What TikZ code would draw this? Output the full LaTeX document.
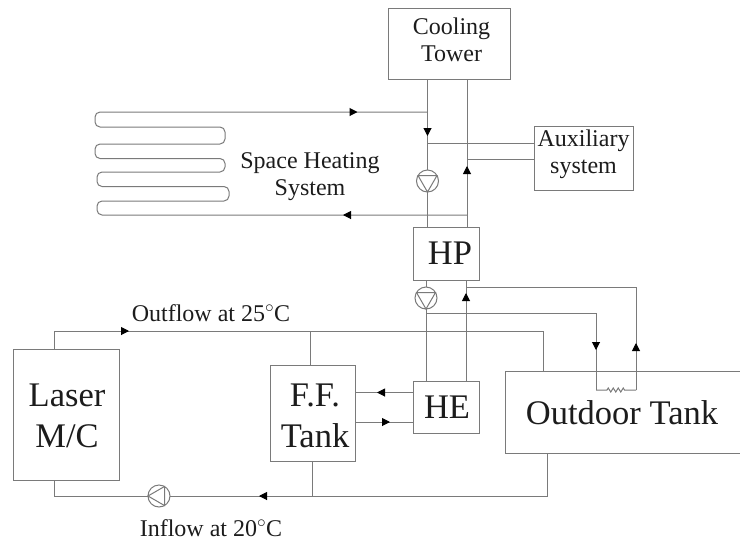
\documentclass[tikz,border=0pt]{standalone}
\usepackage{fontspec}
\setmainfont{Liberation Serif}
\usetikzlibrary{decorations.markings,decorations.pathmorphing,arrows.meta}
\definecolor{pipe}{HTML}{7A7A7A}
\definecolor{ink}{HTML}{1C1C1C}
\tikzset{
  box/.style={draw=pipe,line width=1pt,inner sep=0pt,outer sep=0pt,rectangle},
  openbox/.style={inner sep=0pt,outer sep=0pt,rectangle},
  lineflow/.style={draw=pipe,line width=1pt},
  tipat/.style={postaction={decorate,decoration={markings,mark=at position #1 with {\arrow[black]{Triangle[length=8pt,width=8pt]}}}}},
  pumpc/.style={draw=pipe,line width=1pt,circle,inner sep=0pt,outer sep=0pt,minimum size=22pt,fill=white},
  small/.style={text=ink,font=\fontsize{24}{27}\selectfont,align=center,inner sep=0pt},
  big/.style={text=ink,font=\fontsize{34.5}{41}\selectfont,align=center,inner sep=0pt},
}
\begin{document}
\begin{tikzpicture}[x=1pt,y=-1pt]
\useasboundingbox (0,0) rectangle (740,542);
% boxes
\node[box,minimum width=122pt,minimum height=71pt] (tower) at (449,43.5) {};
\node[box,minimum width=99pt,minimum height=64pt] (aux) at (583.5,158) {};
\node[box,minimum width=66pt,minimum height=53pt] (hp) at (446,253.5) {};
\node[box,minimum width=66pt,minimum height=52pt] (he) at (446,407) {};
\node[openbox,minimum width=235pt,minimum height=82pt] (tank) at (622.5,412) {};
\draw[lineflow] (tank.north east) -- (tank.north west) -- (tank.south west) -- (tank.south east);
\node[box,minimum width=106pt,minimum height=131pt] (laser) at (66,414.5) {};
\node[box,minimum width=85pt,minimum height=96pt] (ff) at (312.5,413) {};
% pumps
\node[pumpc] (p1) at (427.5,181) {};
\node[pumpc] (p2) at (426,298) {};
\node[pumpc] (p3) at (159,496) {};
\draw[lineflow] (p1.150) -- (p1.30) -- (p1.270) -- cycle;
\draw[lineflow] (p2.150) -- (p2.30) -- (p2.270) -- cycle;
\draw[lineflow] (p3.60) -- (p3.300) -- (p3.180) -- cycle;
% helper coordinates
\coordinate (jtop) at (427.5,112);
\coordinate (jbot) at (467,215);
\coordinate (j1) at (427.5,143);
\coordinate (j2) at (467,159);
\coordinate (j3) at (466,287);
\coordinate (j4) at (426,313);
\coordinate (r1) at (636,390);
\coordinate (r2) at (596,390);
\coordinate (o1) at (543,371);
\coordinate (i1) at (547,453);
\coordinate (l1) at (54,349);
\coordinate (l2) at (54,480);
\coordinate (f1) at (310,365);
\coordinate (f2) at (312.5,461);
% upper loop
\draw[lineflow,tipat=57pt] (tower.south -| jtop) -- (p1.north);
\draw[lineflow] (p1.south) -- (hp.north -| p1);
\draw[lineflow,tipat=61pt] (hp.north -| jbot) -- (tower.south -| jbot);
\draw[lineflow] (j1) -- (aux.west |- j1);
\draw[lineflow] (j2) -- (aux.west |- j2);
% space heating coil
\draw[lineflow,rounded corners=5pt,tipat=124pt,tipat=-70pt]
  (jbot) -- (97,215) -- (97,201) -- (229,201) -- (229,186.5) -- (97,186.5) -- (97,172)
  -- (225,172) -- (225,158.5) -- (95,158.5) -- (95,144) -- (225,144) -- (225,127)
  -- (95,127) -- (95,112) -- (jtop);
% lower loop
\draw[lineflow] (hp.south -| p2) -- (p2.north);
\draw[lineflow] (p2.south) -- (he.north -| p2);
\draw[lineflow,tipat=88pt] (he.north -| j3) -- (hp.south -| j3);
\draw[lineflow,tipat=47pt] (r1) -- (j3 -| r1) -- (j3);
\draw[lineflow,tipat=207pt] (j4) -- (j4 -| r2) -- (r2);
\draw[lineflow] (r2) decorate[decoration={zigzag,segment length=5pt,amplitude=2pt,pre length=11pt,post length=10pt}] {-- (r1)};
% heat exchanger to F.F. tank
\coordinate (h1) at (413,392.5);
\coordinate (h2) at (355,422);
\draw[lineflow,tipat=36pt] (h1) -- (h1 -| ff.east);
\draw[lineflow,tipat=35pt] (h2) -- (h2 -| he.west);
% laser circuit
\draw[lineflow,tipat=93pt] (l1) -- (54,331) -- (543,331) -- (o1);
\draw[lineflow] (f1) -- (310,331);
\draw[lineflow,tipat=331pt] (i1) -- (547,496) -- (p3.east);
\draw[lineflow] (p3.west) -- (54,496) -- (l2);
\draw[lineflow] (f2) -- (312.5,496);
% labels
\node[small] (ttower) at (451.5,40) {Cooling\\Tower};
\node[small] (taux) at (583.5,154.5) {Auxiliary\\system};
\node[small] (tspace) at (310,176.5) {Space Heating\\System};
\node[small] (tout) at (211,313) {Outflow at 25$^{\circ}$C};
\node[small] (tin) at (211,528) {Inflow at 20$^{\circ}$C};
\node[big] (thp) at (450,253) {HP};
\node[big] (the) at (447,407) {HE};
\node[big] (ttank) at (622,413) {Outdoor Tank};
\node[big] (tlaser) at (67,416) {Laser\\M/C};
\node[big] (tff) at (315,416) {F.F.\\Tank};
\end{tikzpicture}
\end{document}
